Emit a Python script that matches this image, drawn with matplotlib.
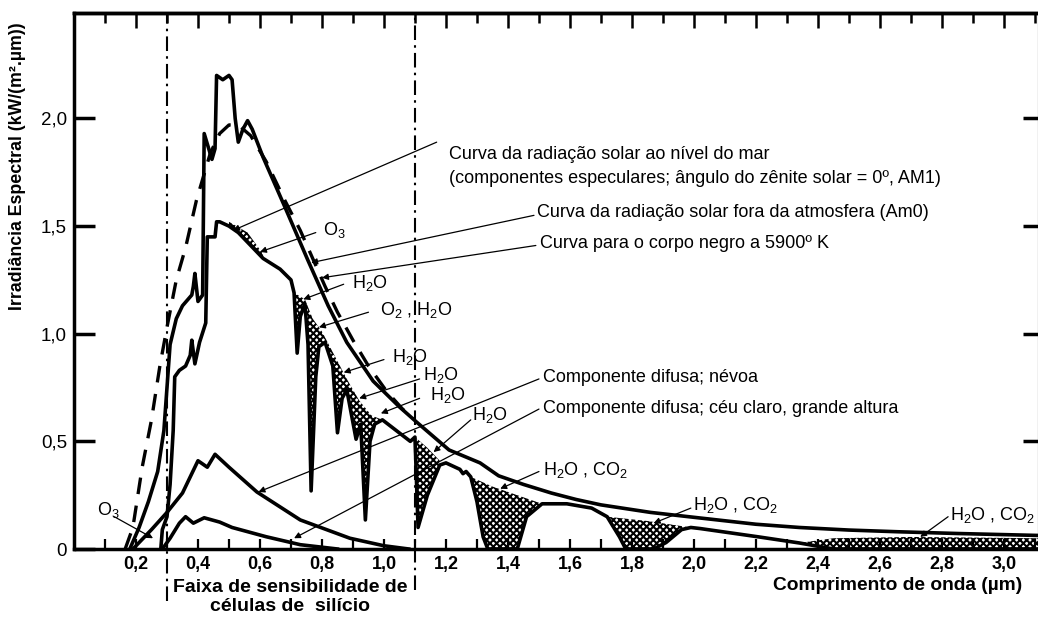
import numpy as np
import matplotlib
matplotlib.use('Agg')
import matplotlib.pyplot as plt

# values (wavelength in um, irradiance in kW/(m2.um))
am0_x = [0.18, 0.21, 0.24, 0.27, 0.29, 0.30, 0.31, 0.33, 0.35, 0.38, 0.385, 0.39, 0.40, 0.415,
         0.42, 0.445, 0.455, 0.46, 0.48, 0.50, 0.51, 0.52, 0.53, 0.545, 0.56, 0.575, 0.61, 0.68,
         0.755, 0.82, 0.88, 0.965, 1.05, 1.105, 1.21, 1.31, 1.37, 1.45, 1.54, 1.62, 1.70, 1.86,
         2.02, 2.20, 2.34, 2.50, 2.66, 2.85, 3.11]
am0_y = [0.0, 0.10, 0.22, 0.36, 0.55, 0.75, 0.95, 1.07, 1.13, 1.18, 1.22, 1.28, 1.15, 1.18,
         1.93, 1.81, 1.86, 2.20, 2.18, 2.20, 2.18, 2.00, 1.89, 1.95, 1.99, 1.95, 1.82, 1.59,
         1.34, 1.13, 0.96, 0.78, 0.66, 0.59, 0.46, 0.40, 0.34, 0.30, 0.26, 0.23, 0.205, 0.17,
         0.144, 0.115, 0.10, 0.088, 0.08, 0.072, 0.063]

bb_x = [0.165, 0.19, 0.22, 0.25, 0.277, 0.30, 0.33, 0.36, 0.395, 0.44, 0.47, 0.50, 0.53, 0.57,
        0.62, 0.68, 0.73, 0.77, 0.81, 0.85, 0.90, 0.95, 1.01, 1.06, 1.10]
bb_y = [0.0, 0.10, 0.38, 0.60, 0.85, 1.03, 1.25, 1.40, 1.62, 1.84, 1.93, 1.97, 1.97, 1.92,
        1.80, 1.62, 1.48, 1.35, 1.22, 1.10, 0.97, 0.85, 0.73, 0.65, 0.60]

sea_x = [0.28, 0.285, 0.30, 0.31, 0.32, 0.325, 0.34, 0.36, 0.375, 0.38, 0.39, 0.405, 0.425, 0.43, 0.455,
         0.46, 0.47, 0.50, 0.53, 0.57, 0.61, 0.665, 0.70, 0.71, 0.72, 0.73, 0.745, 0.755, 0.765,
         0.78, 0.79, 0.81, 0.835, 0.85, 0.865, 0.88, 0.91, 0.925, 0.94, 0.955, 0.97, 0.995, 1.04,
         1.085, 1.10, 1.11, 1.14, 1.18, 1.20, 1.245, 1.255, 1.265, 1.28, 1.30, 1.32, 1.335, 1.43,
         1.46, 1.51, 1.59, 1.67, 1.72, 1.76, 1.78, 1.87, 1.91, 1.96, 1.99, 2.02, 2.21, 2.34, 2.45, 3.11]
sea_y = [0.0, 0.09, 0.15, 0.30, 0.55, 0.80, 0.83, 0.85, 0.90, 0.97, 0.86, 0.96, 1.05, 1.45, 1.45,
         1.52, 1.52, 1.50, 1.47, 1.41, 1.35, 1.30, 1.25, 1.19, 0.91, 1.08, 1.14, 0.95, 0.27,
         0.80, 0.94, 0.96, 0.85, 0.54, 0.70, 0.74, 0.51, 0.58, 0.135, 0.50, 0.58, 0.60, 0.55,
         0.50, 0.52, 0.10, 0.25, 0.39, 0.40, 0.37, 0.35, 0.36, 0.335, 0.22, 0.056, 0.0, 0.0,
         0.15, 0.21, 0.21, 0.19, 0.15, 0.056, 0.0, 0.0, 0.03, 0.09, 0.10, 0.095, 0.056, 0.028, 0.0, 0.0]

haze_x = [0.19, 0.25, 0.30, 0.35, 0.40, 0.43, 0.455, 0.50, 0.59, 0.73, 0.89, 1.0, 1.08]
haze_y = [0.0, 0.09, 0.17, 0.26, 0.41, 0.38, 0.44, 0.38, 0.265, 0.135, 0.05, 0.015, 0.0]

clear_x = [0.285, 0.31, 0.34, 0.36, 0.385, 0.42, 0.47, 0.51, 0.62, 0.73, 0.85]
clear_y = [0.0, 0.05, 0.12, 0.15, 0.12, 0.145, 0.125, 0.10, 0.057, 0.02, 0.0]

# upper edges of the absorption bands (shaded down to the sea level curve)
bands = [
    ([0.50, 0.56, 0.61], [1.52, 1.47, 1.37]),
    ([0.71, 0.745, 0.77, 0.80, 0.84, 0.88, 0.92, 0.96, 0.995], [1.19, 1.16, 1.07, 1.01, 0.90, 0.79, 0.69, 0.62, 0.60]),
    ([1.10, 1.14, 1.18], [0.52, 0.47, 0.41]),
    ([1.28, 1.35, 1.43, 1.51], [0.335, 0.29, 0.25, 0.21]),
    ([1.72, 1.85, 1.99], [0.15, 0.13, 0.10]),
    ([2.34, 2.45, 2.70, 3.11], [0.028, 0.05, 0.056, 0.05]),
]

x_ticks = [0.2, 0.4, 0.6, 0.8, 1.0, 1.2, 1.4, 1.6, 1.8, 2.0, 2.2, 2.4, 2.6, 2.8, 3.0]
x_labels = ['0,2', '0,4', '0,6', '0,8', '1,0', '1,2', '1,4', '1,6', '1,8', '2,0', '2,2', '2,4', '2,6', '2,8', '3,0']
y_ticks = [0, 0.5, 1.0, 1.5, 2.0]
y_labels = ['0', '0,5', '1,0', '1,5', '2,0']

plt.rcParams['font.family'] = ['Liberation Sans', 'DejaVu Sans']
plt.rcParams['mathtext.fontset'] = 'custom'
plt.rcParams['mathtext.rm'] = 'Liberation Sans'
plt.rcParams['mathtext.it'] = 'Liberation Sans'
plt.rcParams['hatch.linewidth'] = 1.5
narrow = ['Liberation Sans Narrow', 'Liberation Sans', 'DejaVu Sans']

fig = plt.figure(figsize=(10.38, 6.19), dpi=100)
ax = fig.add_axes([74 / 1038, 1 - 549 / 619, 1 - 74 / 1038, (549 - 13) / 619])
ax.set_xlim(0, 3.11)
ax.set_ylim(0, 2.49)

sea_x_a = np.array(sea_x)
sea_y_a = np.array(sea_y)
for bx, by in bands:
    m = (sea_x_a >= bx[0]) & (sea_x_a <= bx[-1])
    px = np.concatenate([bx, sea_x_a[m][::-1]])
    py = np.concatenate([by, sea_y_a[m][::-1]])
    ax.fill(px, py, facecolor='white', edgecolor='black', hatch='xxxxx', linewidth=0, zorder=1)

lw = 2.6
ax.plot(am0_x, am0_y, color='black', lw=lw, solid_joinstyle='round', zorder=3)
ax.plot(sea_x, sea_y, color='black', lw=lw, solid_joinstyle='round', zorder=3)
ax.plot(haze_x, haze_y, color='black', lw=lw, zorder=3)
ax.plot(clear_x, clear_y, color='black', lw=lw, zorder=3)
ax.plot(bb_x, bb_y, color='black', lw=2.4, linestyle=(0, (5, 3.5)), zorder=3)

# silicon sensitivity band limits
ax.plot([0.3, 0.3], [-0.24, 2.49], color='black', lw=1.5, linestyle=(0, (7, 2.5, 1.2, 2.5)), clip_on=False, zorder=2)
ax.plot([1.1, 1.1], [-0.19, 2.49], color='black', lw=1.5, linestyle=(0, (7, 2.5, 1.2, 2.5)), clip_on=False, zorder=2)

notes = [
    ('Curva da radiação solar ao nível do mar\n(componentes especulares; ângulo do zênite solar = 0º, AM1)',
     (1.21, 1.775), (1.17, 1.89), (0.513, 1.48)),
    ('Curva da radiação solar fora da atmosfera (Am0)', (1.494, 1.563), (1.484, 1.55), (0.765, 1.33)),
    ('Curva para o corpo negro a 5900º K', (1.503, 1.419), (1.49, 1.41), (0.80, 1.26)),
    ('O$_3$', (0.803, 1.484), (0.78, 1.47), (0.60, 1.38)),
    ('H$_2$O', (0.897, 1.237), (0.87, 1.23), (0.74, 1.16)),
    ('O$_2$ , H$_2$O', (0.987, 1.11), (0.95, 1.10), (0.79, 1.03)),
    ('H$_2$O', (1.026, 0.893), (1.0, 0.88), (0.87, 0.82)),
    ('H$_2$O', (1.126, 0.81), (1.115, 0.79), (0.92, 0.70)),
    ('H$_2$O', (1.148, 0.716), (1.115, 0.70), (0.99, 0.63)),
    ('H$_2$O', (1.284, 0.623), (1.28, 0.60), (1.16, 0.45)),
    ('H$_2$O , CO$_2$', (1.513, 0.367), (1.50, 0.36), (1.375, 0.28)),
    ('H$_2$O , CO$_2$', (1.997, 0.205), (1.99, 0.19), (1.87, 0.12)),
    ('H$_2$O , CO$_2$', (2.826, 0.158), (2.82, 0.15), (2.73, 0.056)),
    ('O$_3$', (0.074, 0.181), (0.13, 0.15), (0.255, 0.05)),
    ('Componente difusa; névoa', (1.513, 0.795), (1.50, 0.79), (0.595, 0.265)),
    ('Componente difusa; céu claro, grande altura', (1.513, 0.651), (1.50, 0.65), (0.71, 0.05)),
]
for label, txy, a0, a1 in notes:
    ax.text(txy[0], txy[1], label, ha='left', va='center', fontsize=13, family=narrow,
            linespacing=1.55, zorder=5)
    ax.annotate('', xy=a1, xytext=a0,
                arrowprops=dict(arrowstyle='-|>', lw=0.9, color='black', mutation_scale=9,
                                shrinkA=0, shrinkB=0), zorder=4)

for s in ['left', 'bottom', 'top']:
    ax.spines[s].set_linewidth(2.5)
ax.spines['right'].set_visible(False)

ax.set_xticks(x_ticks)
ax.set_xticklabels(x_labels, fontweight='bold', fontsize=13)
ax.set_xticks(np.arange(0.1, 3.11, 0.2), minor=True)
ax.tick_params(axis='x', which='both', direction='in', length=7, width=1.6, pad=5, top=False)
ax.set_yticks(y_ticks)
ax.set_yticklabels(y_labels, fontsize=13.5)
ax.tick_params(axis='y', direction='in', length=15, width=2.5, pad=5, right=False)

top = ax.secondary_xaxis('top')
top.set_xticks(x_ticks)
top.set_xticks(np.arange(0.1, 3.11, 0.2), minor=True)
top.tick_params(which='major', direction='in', length=11, width=1.8, labeltop=False)
top.tick_params(which='minor', direction='in', length=7, width=1.8)
top.spines['top'].set_linewidth(2.5)

right = ax.secondary_yaxis('right')
right.set_yticks([0.5, 1.0, 1.5, 2.0])
right.tick_params(direction='in', length=11, width=2.5, labelright=False)

fig.text(18 / 1038, 1 - 166 / 619, 'Irradiância Espectral (kW/(m².µm))', rotation=90,
         ha='center', va='center', fontsize=12.8, fontweight='bold')
fig.text(1022 / 1038, 1 - 585 / 619, 'Comprimento de onda (µm)', ha='right', va='center',
         fontsize=13.8, fontweight='bold')
fig.text(290 / 1038, 1 - 597 / 619, 'Faixa de sensibilidade de\ncélulas de  silício', ha='center',
         va='center', fontsize=14, fontweight='bold', linespacing=1.1)

fig.savefig('out.png', dpi=100)
